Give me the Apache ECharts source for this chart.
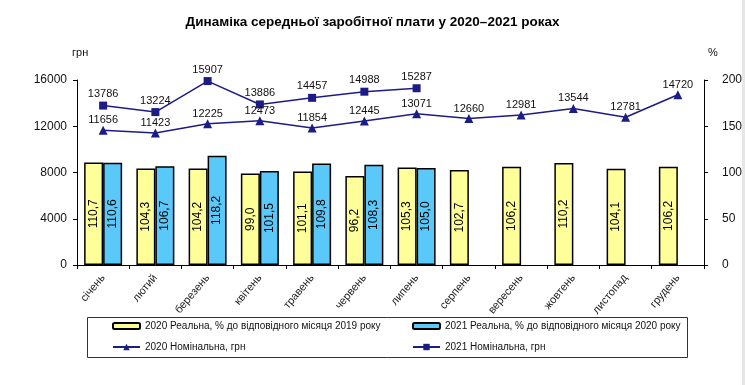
<!DOCTYPE html>
<html>
<head>
<meta charset="utf-8">
<script src="https://cdn.jsdelivr.net/npm/echarts@6/dist/echarts.min.js"></script>
<style>
html,body{margin:0;padding:0;background:#fff;}
#c{width:745px;height:385px;}
</style>
</head>
<body>
<div id="c"></div>
<script>
var months = ['січень','лютий','березень','квітень','травень','червень','липень','серпень','вересень','жовтень','листопад','грудень'];
var real2020 = [110.7,104.3,104.2,99.0,101.1,96.2,105.3,102.7,106.2,110.2,104.1,106.2];
var real2021 = [110.6,106.7,118.2,101.5,109.8,108.3,105.0,null,null,null,null,null];
var nom2020 = [11656,11423,12225,12473,11854,12445,13071,12660,12981,13544,12781,14720];
var nom2021 = [13786,13224,15907,13886,14457,14988,15287,null,null,null,null,null];
var leftTicks = {min:0,max:16000,interval:4000};
var rightTicks = {min:0,max:200,interval:50};

var FONT = 'Liberation Sans, Arial, sans-serif';
var NAVY = '#1c1c86';
var chart = echarts.init(document.getElementById('c'), null, {renderer:'canvas'});

function legendCfg(name, left, top, iw, ih){
  return {
    data:[name], left:left, top:top, itemWidth:iw, itemHeight:ih,
    textStyle:{fontFamily:FONT,fontSize:10,color:'#111'}, itemGap:0, padding:0
  };
}
var barLabel = {
  show:true, position:'inside', rotate:90, color:'#000', fontFamily:FONT, fontSize:12,
  formatter:function(p){ return p.value==null?'':p.value.toFixed(1).replace('.',','); }
};
function lineLabel(d){ return {show:true, position:'top', distance:d, color:'#111', fontFamily:FONT, fontSize:11}; }

chart.setOption({
  animation:false,
  backgroundColor:'#fff',
  title:{text:'Динаміка середньої заробітної плати у 2020–2021 роках', left:'center', top:10,
    textStyle:{fontFamily:FONT,fontSize:13.5,fontWeight:'bold',color:'#000'}},
  graphic:[
    {type:'text', left:72, top:47, style:{text:'грн', font:'11px '+FONT, fill:'#111'}},
    {type:'text', left:708, top:47, style:{text:'%', font:'11px '+FONT, fill:'#111'}},
    {type:'rect', shape:{x:87.5,y:317.5,width:600,height:40}, style:{fill:'none',stroke:'#333',lineWidth:1}, silent:true},
    {type:'rect', shape:{x:742,y:0,width:3,height:385}, style:{fill:'#e6e6e6'}, silent:true}
  ],
  legend:[
    legendCfg('2020 Реальна, % до відповідного місяця 2019 року',112,321,27,6),
    legendCfg('2021 Реальна, % до відповідного місяця 2020 року',412,321,27,6),
    legendCfg('2020 Номінальна, грн',112,342,27,8),
    legendCfg('2021 Номінальна, грн',412,342,27,8)
  ],
  grid:{left:77,right:38,top:80,bottom:120,containLabel:false},
  xAxis:{type:'category', data:months, boundaryGap:true,
    axisLine:{lineStyle:{color:'#000',width:1}},
    axisTick:{show:true,length:4,lineStyle:{color:'#000'}},
    axisLabel:{rotate:50, fontFamily:FONT, fontSize:11, color:'#222', margin:11, interval:0}
  },
  yAxis:[
    {type:'value', position:'left', min:leftTicks.min, max:leftTicks.max, interval:leftTicks.interval,
      splitLine:{show:false},
      axisLine:{show:true,lineStyle:{color:'#000'}},
      axisTick:{show:true,length:4,lineStyle:{color:'#000'}},
      axisLabel:{fontFamily:FONT,fontSize:12,color:'#111',margin:10,formatter:function(v){return String(v);}}},
    {type:'value', position:'right', min:rightTicks.min, max:rightTicks.max, interval:rightTicks.interval,
      splitLine:{show:false},
      axisLine:{show:true,lineStyle:{color:'#000'}},
      axisTick:{show:true,length:4,lineStyle:{color:'#000'}},
      axisLabel:{fontFamily:FONT,fontSize:12,color:'#111',margin:18,formatter:function(v){return String(v);}}}
  ],
  series:[
    {name:'2020 Реальна, % до відповідного місяця 2019 року', type:'bar', yAxisIndex:1, data:real2020,
      barWidth:19, barGap:'0%', itemStyle:{color:'#ffff99',borderColor:'#000',borderWidth:1.5}, label:barLabel},
    {name:'2021 Реальна, % до відповідного місяця 2020 року', type:'bar', yAxisIndex:1, data:real2021,
      barWidth:19, barGap:'0%', itemStyle:{color:'#5ac8f8',borderColor:'#000',borderWidth:1.5}, label:barLabel},
    {name:'2020 Номінальна, грн', type:'line', yAxisIndex:0, data:nom2020, symbol:'triangle', symbolSize:9,
      lineStyle:{color:NAVY,width:1.5}, itemStyle:{color:NAVY}, label:lineLabel(0)},
    {name:'2021 Номінальна, грн', type:'line', yAxisIndex:0, data:nom2021, symbol:'rect', symbolSize:8,
      lineStyle:{color:NAVY,width:1.5}, itemStyle:{color:NAVY}, label:lineLabel(2)}
  ]
});
</script>
</body>
</html>
